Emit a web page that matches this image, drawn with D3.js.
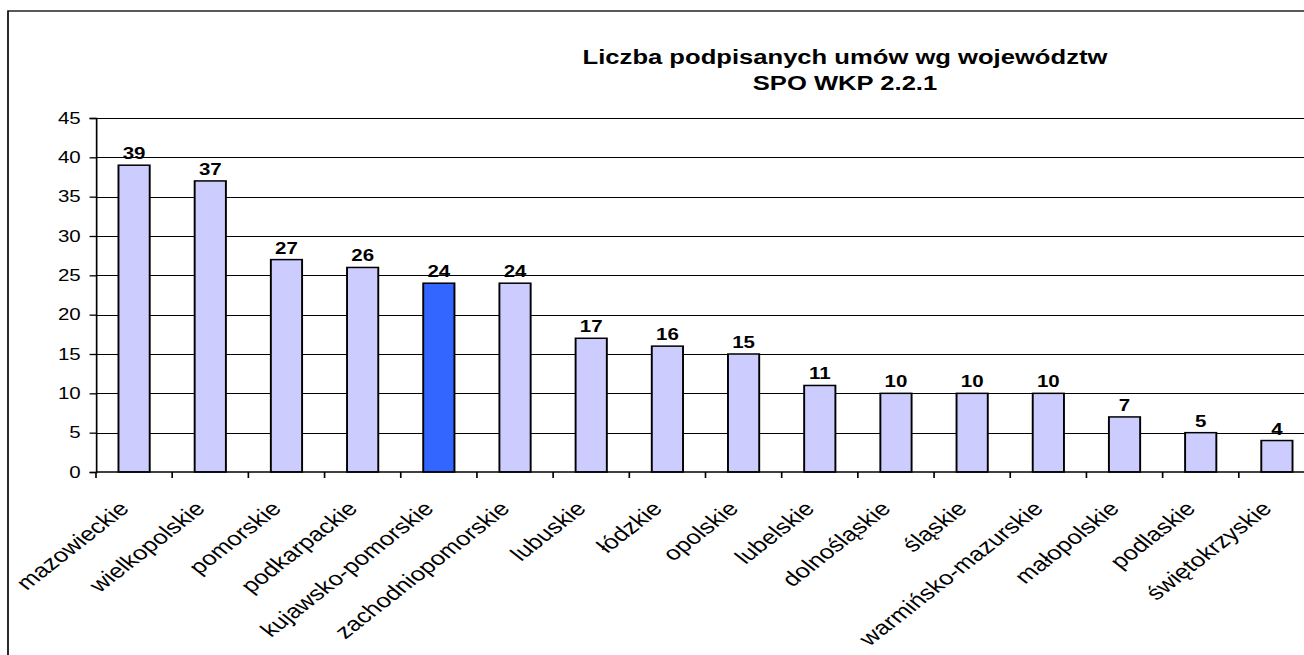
<!DOCTYPE html>
<html>
<head>
  <meta charset="UTF-8">
  <style>
    body { margin: 0; background: #fff; }
    text { font-family: Arial, "Liberation Sans", sans-serif; fill: #000; }
    .title { font-size: 20px; font-weight: bold; }
    .val { font-size: 16px; font-weight: bold; }
    .tick text { font-size: 16px; }
    .cat { font-size: 20px; }
  </style>
</head>
<body>
<svg></svg>
<script src="https://d3js.org/d3.v7.min.js"></script>
<script>

let width = 1304, height = 655;
// the picture is stretched sideways, so draw in narrow units and scale the group
const stretch = 1.28;

const regions = ["mazowieckie", "wielkopolskie", "pomorskie", "podkarpackie",
  "kujawsko-pomorskie", "zachodniopomorskie", "lubuskie", "łódzkie", "opolskie",
  "lubelskie", "dolnośląskie", "śląskie", "warmińsko-mazurskie", "małopolskie",
  "podlaskie", "świętokrzyskie"];
const contracts = [39, 37, 27, 26, 24, 24, 17, 16, 15, 11, 10, 10, 10, 7, 5, 4];
const highlighted = ["kujawsko-pomorskie"];
const yTicks = [0, 5, 10, 15, 20, 25, 30, 35, 40, 45];
const titleLines = ["Liczba podpisanych umów wg województw", "SPO WKP 2.2.1"];

let svg = d3.select("svg")
    .attr("width", width)
    .attr("height", height);

let g = svg.append("g")
    .attr("transform", "scale(" + stretch + ",1)");

let plotLeft = 96 / stretch, plotRight = 1315 / stretch;
let plotTop = 118, plotBottom = 472;

// chart border (runs off the right and bottom edge)
g.append("rect")
    .attr("x", 8 / stretch)
    .attr("y", 11)
    .attr("width", 1400 / stretch)
    .attr("height", 700)
    .attr("fill", "none")
    .attr("stroke", "#000")
    .attr("stroke-width", 1.3);

let x = d3.scaleBand()
    .domain(regions)
    .range([plotLeft, plotRight])
    .paddingInner(0.59)
    .paddingOuter(0.295);

let y = d3.scaleLinear()
    .domain([0, 45])
    .range([plotBottom, plotTop]);

// grid lines
g.append("g")
  .selectAll("line")
  .data(yTicks.filter(d => d > 0))
  .enter()
  .append("line")
    .attr("x1", plotLeft)
    .attr("x2", plotRight)
    .attr("y1", d => Math.round(y(d)) + 0.5)
    .attr("y2", d => Math.round(y(d)) + 0.5)
    .attr("stroke", "#000")
    .attr("stroke-width", 1);

// bars
g.append("g")
  .selectAll("rect")
  .data(regions)
  .enter()
  .append("rect")
    .attr("x", d => x(d))
    .attr("width", x.bandwidth())
    .attr("y", (d, i) => y(contracts[i]))
    .attr("height", (d, i) => plotBottom - y(contracts[i]))
    .attr("fill", d => highlighted.includes(d) ? "#3366FF" : "#CCCCFF")
    .attr("stroke", "#000")
    .attr("stroke-width", 1.5);

// value labels
g.append("g")
  .selectAll("text")
  .data(regions)
  .enter()
  .append("text")
    .attr("class", "val")
    .attr("x", d => x(d) + x.bandwidth() / 2)
    .attr("y", (d, i) => y(contracts[i]) - 6)
    .attr("text-anchor", "middle")
    .text((d, i) => contracts[i]);

// y axis
let yAxis = g.append("g")
    .attr("transform", "translate(" + plotLeft + ",0)")
    .call(d3.axisLeft(y).tickValues(yTicks).tickSize(5).tickPadding(7));
yAxis.selectAll("line, path").attr("stroke", "#000").attr("stroke-width", 1.3);

// x axis: ticks sit between the categories
let xAxis = g.append("g")
    .attr("transform", "translate(0," + plotBottom + ")");
xAxis.append("line")
    .attr("x1", plotLeft).attr("x2", plotRight)
    .attr("stroke", "#000").attr("stroke-width", 1.5);
xAxis.selectAll(".sep")
  .data(d3.range(regions.length + 1))
  .enter()
  .append("line")
    .attr("class", "sep")
    .attr("x1", i => plotLeft + i * x.step())
    .attr("x2", i => plotLeft + i * x.step())
    .attr("y1", 0).attr("y2", 6)
    .attr("stroke", "#000").attr("stroke-width", 1.3);

xAxis.selectAll(".cat")
  .data(regions)
  .enter()
  .append("text")
    .attr("class", "cat")
    .attr("text-anchor", "end")
    .attr("transform", d => "translate(" + (x(d) + x.bandwidth() / 2 - 3) + ",38) rotate(-45)")
    .text(d => d);

// title
g.append("text")
    .attr("class", "title")
    .attr("text-anchor", "middle")
    .attr("x", 845 / stretch)
    .attr("y", 64)
  .selectAll("tspan")
  .data(titleLines)
  .enter()
  .append("tspan")
    .attr("x", 845 / stretch)
    .attr("dy", (d, i) => i ? 26 : 0)
    .text(d => d);

</script>
</body>
</html>
